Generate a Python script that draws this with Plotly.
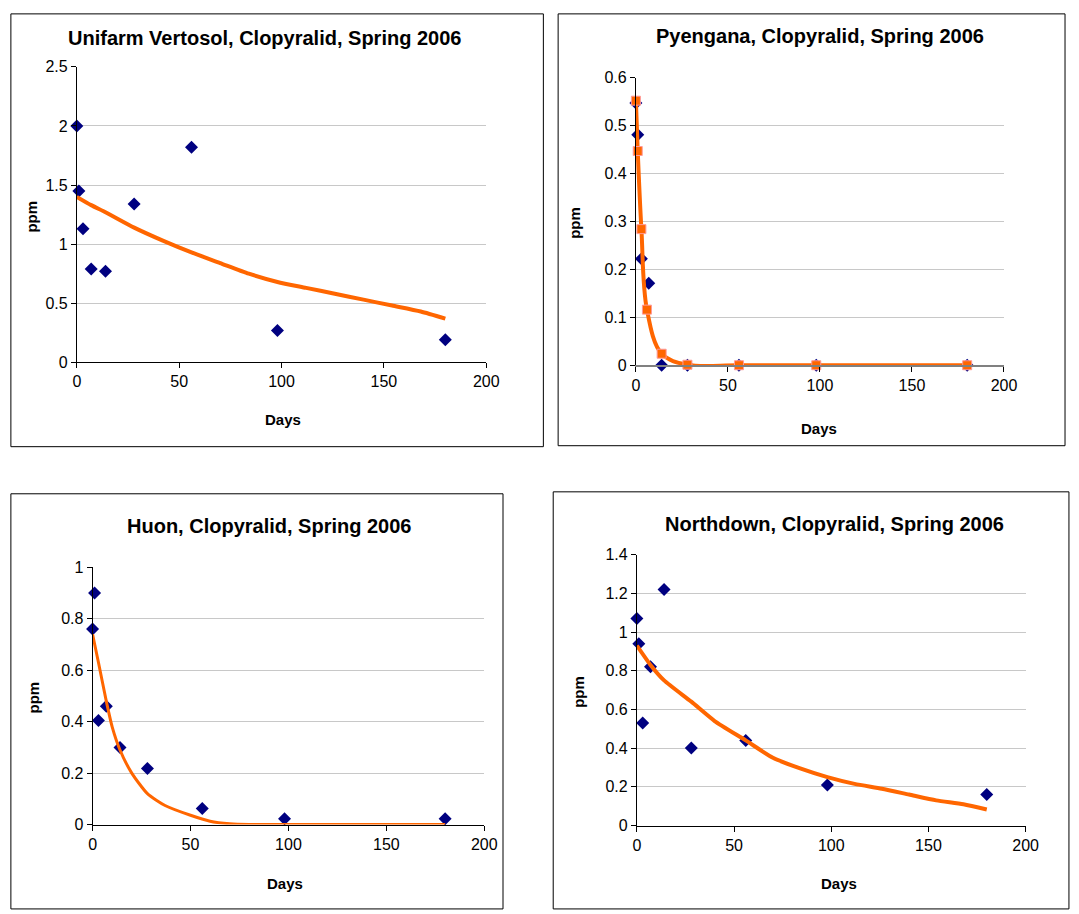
import plotly.graph_objects as go

W, H = 1079, 914

# ---------------- data ----------------
titles = ["Unifarm Vertosol, Clopyralid, Spring 2006",
          "Pyengana, Clopyralid, Spring 2006",
          "Huon, Clopyralid, Spring 2006",
          "Northdown, Clopyralid, Spring 2006"]

# Unifarm Vertosol
uni_days = [0, 1, 3, 7, 14, 28, 56, 98, 180]
uni_ppm = [2.00, 1.45, 1.13, 0.79, 0.77, 1.34, 1.82, 0.27, 0.19]
uni_fit_days = [0, 7, 14, 28, 42, 56, 70, 84, 98, 112, 126, 140, 154, 168, 180]
uni_fit_ppm = [1.40, 1.33, 1.27, 1.14, 1.03, 0.93, 0.84, 0.75, 0.68, 0.63, 0.58, 0.53, 0.48, 0.43, 0.37]

# Pyengana
pye_days = [0, 1, 3, 7, 14, 28, 56, 98, 180]
pye_ppm = [0.547, 0.481, 0.222, 0.171, 0.0, 0.0, 0.0, 0.0, 0.0]
pye_fit_days = [0, 1, 3, 6, 14, 28, 56, 98, 180]
pye_fit_ppm = [0.552, 0.447, 0.284, 0.116, 0.024, 0.001, 0.0, 0.0, 0.0]

# Huon
huon_days = [0, 1, 3, 7, 14, 28, 56, 98, 180]
huon_ppm = [0.76, 0.90, 0.405, 0.46, 0.30, 0.218, 0.062, 0.022, 0.022]
huon_fit_days = [0, 3, 7, 10, 14, 20, 28, 37, 50, 60, 70, 80, 98, 120, 150, 180]
huon_fit_ppm = [0.74, 0.63, 0.48, 0.38, 0.29, 0.20, 0.12, 0.074, 0.036, 0.013, 0.003, 0.0, 0.0, 0.0, 0.0, 0.0]

# Northdown
nd_days = [0, 1, 3, 7, 14, 28, 56, 98, 180]
nd_ppm = [1.07, 0.94, 0.53, 0.82, 1.22, 0.40, 0.44, 0.21, 0.16]
nd_fit_days = [0, 7, 14, 28, 40, 56, 70, 84, 98, 112, 126, 140, 154, 168, 180]
nd_fit_ppm = [0.93, 0.83, 0.75, 0.64, 0.54, 0.44, 0.35, 0.295, 0.25, 0.215, 0.19, 0.16, 0.13, 0.11, 0.083]

y_ranges = [(0, 2.5, 0.5), (0, 0.6, 0.1), (0, 1.0, 0.2), (0, 1.4, 0.2)]

# ---------------- layout helpers ----------------
def px(x):
    return x / W

def py(y):
    return 1 - y / H

# plot areas in pixels: (left, right, top, bottom)
areas = [(74, 490, 60, 361), (642, 1016, 71, 364), (90, 488, 570, 832), (643, 1038, 557, 833)]
boxes = [(7, 548, 6, 447), (563, 1078, 6, 446), (7, 507, 495, 918), (558, 1082, 493, 918)]
title_pos = [(265, 31), (829, 29), (270, 528), (844, 526)]
days_pos = [(283, 419), (828, 428), (285, 892), (848, 892)]
ppm_pos = [(27, 213), (580, 219), (30, 703), (583, 697)]

FONT = "Liberation Sans, Arial, sans-serif"
NAVY = "#000080"
ORANGE = "#FF6600"

fig = go.Figure()

scatter_sets = [(uni_days, uni_ppm), (pye_days, pye_ppm), (huon_days, huon_ppm), (nd_days, nd_ppm)]
fit_sets = [(uni_fit_days, uni_fit_ppm), (pye_fit_days, pye_fit_ppm),
            (huon_fit_days, huon_fit_ppm), (nd_fit_days, nd_fit_ppm)]
line_widths = [4, 4, 3, 4]

for i in range(4):
    xa = "x" if i == 0 else f"x{i+1}"
    ya = "y" if i == 0 else f"y{i+1}"
    fd, fp = fit_sets[i]
    sd, sp = scatter_sets[i]
    fig.add_trace(go.Scatter(x=sd, y=sp, mode="markers", xaxis=xa, yaxis=ya,
                             marker=dict(symbol="diamond", size=10, color=NAVY),
                             cliponaxis=False, showlegend=False))
    if i == 1:
        fig.add_trace(go.Scatter(x=fd, y=fp, mode="lines+markers", xaxis=xa, yaxis=ya,
                                 line=dict(color=ORANGE, width=line_widths[i], shape="spline", smoothing=1.0),
                                 marker=dict(symbol="square", size=9, color=ORANGE,
                                             line=dict(color="#FF9999", width=1)),
                                 cliponaxis=False, showlegend=False))
    else:
        fig.add_trace(go.Scatter(x=fd, y=fp, mode="lines", xaxis=xa, yaxis=ya,
                                 line=dict(color=ORANGE, width=line_widths[i], shape="spline", smoothing=0.6),
                                 cliponaxis=False, showlegend=False))

layout = dict(width=W, height=H, margin=dict(l=0, r=0, t=0, b=0),
              paper_bgcolor="white", plot_bgcolor="white",
              font=dict(family=FONT, size=16, color="black"), showlegend=False)

shapes = []
annotations = []
for i in range(4):
    l, r, t, b = areas[i]
    suffix = "" if i == 0 else str(i + 1)
    y0, y1, dt = y_ranges[i]
    layout["xaxis" + suffix] = dict(domain=[px(l), px(r)], range=[0, 200], dtick=50, tick0=0,
                                    anchor="y" + suffix, showgrid=False, zeroline=False,
                                    showline=True, linecolor="#808080" if i == 1 else "black",
                                    linewidth=2 if i == 1 else 1,
                                    ticks="outside", ticklen=5, tickcolor="black",
                                    tickfont=dict(size=16, family=FONT), fixedrange=True)
    layout["yaxis" + suffix] = dict(domain=[py(b), py(t)], range=[y0, y1], dtick=dt, tick0=0,
                                    anchor="x" + suffix, showgrid=True, gridcolor="#C8C8C8",
                                    gridwidth=1, zeroline=False, showline=True, linecolor="black",
                                    linewidth=1, ticks="outside", ticklen=5, tickcolor="black",
                                    tickfont=dict(size=16, family=FONT), fixedrange=True)
    bx0, bx1, by0, by1 = boxes[i]
    shapes.append(dict(type="rect", xref="paper", yref="paper",
                       x0=px(bx0), x1=px(bx1), y0=py(by1), y1=py(by0),
                       line=dict(color="black", width=1), fillcolor="rgba(0,0,0,0)", layer="below"))
    tx, ty = title_pos[i]
    annotations.append(dict(text="<b>" + titles[i] + "</b>", xref="paper", yref="paper",
                            x=px(tx), y=py(ty), showarrow=False, xanchor="center", yanchor="middle",
                            font=dict(size=20, family=FONT, color="black")))
    dx, dy = days_pos[i]
    annotations.append(dict(text="<b>Days</b>", xref="paper", yref="paper",
                            x=px(dx), y=py(dy), showarrow=False, xanchor="center", yanchor="middle",
                            font=dict(size=15, family=FONT, color="black")))
    qx, qy = ppm_pos[i]
    annotations.append(dict(text="<b>ppm</b>", xref="paper", yref="paper", textangle=-90,
                            x=px(qx), y=py(qy), showarrow=False, xanchor="center", yanchor="middle",
                            font=dict(size=15, family=FONT, color="black")))

layout["shapes"] = shapes
layout["annotations"] = annotations
fig.update_layout(**layout)

fig.write_html("out.html", config={"displayModeBar": False},
               post_script="document.body.style.margin='0';")
